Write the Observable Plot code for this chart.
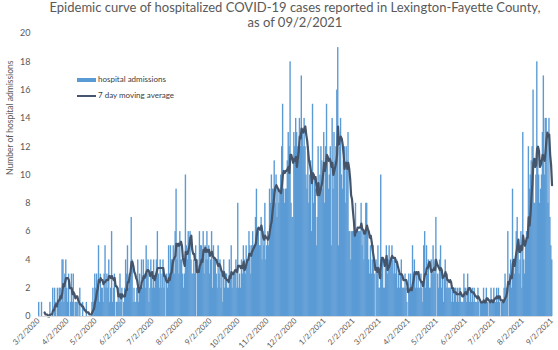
<!DOCTYPE html>
<html><head><meta charset="utf-8">
<script src="https://cdn.jsdelivr.net/npm/d3@7"></script>
<script src="https://cdn.jsdelivr.net/npm/@observablehq/plot@0.6"></script>
<style>
body{margin:0;background:#fff;font-family:Lato,"Liberation Sans",sans-serif;}
#wrap{position:relative;width:558px;height:350px;overflow:hidden;}
#title{height:28px;text-align:center;color:#595959;font-size:13px;line-height:15px;padding-left:32px;box-sizing:border-box;width:558px;white-space:nowrap;}
#legend{position:absolute;left:77px;top:71px;font-size:8px;color:#404040;line-height:16px;}
.sw{display:inline-block;width:19px;vertical-align:middle;margin-right:2px;}
</style></head>
<body><div id="wrap">
<div id="title">Epidemic curve of hospitalized COVID-19 cases reported in Lexington-Fayette County,<br>as of 09/2/2021</div>
<div id="chart"></div>
<div id="legend">
<div><span class="sw" style="height:4px;background:#5B9BD5"></span>hospital admissions</div>
<div><span class="sw" style="height:2px;background:#44546A"></span>7 day moving average</div>
</div>
</div>
<script>
const seriesName = "hospital admissions";
const averageName = "7 day moving average";
const firstDay = "2020-03-02";
// daily hospital admissions, 3/2/2020 .. 9/2/2021 (one line per week)
const admissions = [
1,0,0,1,0,0,0,
0,0,0,0,0,1,0,
0,2,0,2,1,0,2,
1,2,2,1,4,4,1,
3,4,2,1,3,0,1,
3,1,3,0,1,1,1,
1,0,2,0,0,1,0,
0,0,1,0,0,0,0,
0,1,2,1,3,2,3,
2,5,1,3,2,2,1,
3,5,2,3,2,4,1,
2,6,1,2,3,0,1,
1,2,1,3,1,2,0,
1,2,4,3,5,2,3,
3,7,4,1,2,1,1,
2,4,1,3,2,4,2,
4,3,2,5,3,4,1,
2,4,3,2,4,2,3,
4,6,3,2,4,2,3,
4,2,3,0,3,2,5,
3,5,4,4,5,3,6,
9,4,5,3,6,4,4,
3,2,3,10,5,4,6,
5,6,4,3,3,4,3,
5,0,4,3,6,5,5,
4,6,3,5,4,6,4,
5,3,4,6,2,5,4,
4,3,2,5,3,4,2,
3,1,4,2,3,3,2,
2,4,3,5,2,3,3,
3,4,2,8,2,3,2,
4,3,5,4,3,5,4,
4,6,5,3,5,6,5,
5,7,9,6,6,5,5,
7,4,6,5,8,4,5,
6,5,9,8,10,9,9,
11,8,10,7,9,8,9,
10,12,15,9,8,9,9,
11,13,12,18,8,7,7,
13,12,14,13,12,11,14,
12,17,13,12,14,12,10,
9,12,8,10,11,6,15,
8,10,9,5,7,12,9,
10,12,11,9,13,8,12,
15,11,9,10,12,5,14,
9,13,11,12,16,19,5,
12,14,10,9,11,12,8,
12,11,13,6,6,4,6,
6,6,6,8,6,6,6,
6,6,8,5,6,4,6,
8,8,6,4,3,5,3,
4,5,3,0,4,3,5,
2,2,10,3,4,2,2,
4,5,3,4,5,4,4,
5,4,3,4,3,4,2,
3,2,3,4,2,2,2,
3,2,1,0,3,2,3,
2,5,3,4,2,3,2,
3,2,2,3,2,1,5,
6,2,5,3,4,2,2,
4,3,5,4,3,7,0,
3,2,4,5,2,3,1,
3,4,2,3,2,2,2,
2,1,2,1,2,2,1,
2,1,2,2,1,1,1,
3,2,2,1,3,2,1,
2,1,2,1,2,1,1,
1,2,1,0,1,1,1,
2,1,1,2,1,0,1,
1,2,1,1,2,1,1,
2,1,2,1,0,1,1,
1,2,3,2,2,6,0,
3,4,2,9,4,3,4,
6,7,5,3,4,6,2,
13,4,3,5,6,6,12,
9,10,11,12,16,8,8,
10,18,12,10,8,9,10,
13,17,10,14,14,13,8,
14,7,5,4
];
const tickDates = ["2020-03-02","2020-04-02","2020-05-02","2020-06-02","2020-07-02","2020-08-02","2020-09-02","2020-10-02","2020-11-02","2020-12-02","2021-01-02","2021-02-02","2021-03-02","2021-04-02","2021-05-02","2021-06-02","2021-07-02","2021-08-02","2021-09-02"];
const tickLabels = ["3/2/2020","4/2/2020","5/2/2020","6/2/2020","7/2/2020","8/2/2020","9/2/2020","10/2/2020","11/2/2020","12/2/2020","1/2/2021","2/2/2021","3/2/2021","4/2/2021","5/2/2021","6/2/2021","7/2/2021","8/2/2021","9/2/2021"];
const yTicks = [0,2,4,6,8,10,12,14,16,18,20];
const yLabel = "Number of hospital admissions";

const start = new Date(firstDay + "T00:00Z");
const rows = admissions.map((v, i) => {
  const date = d3.utcDay.offset(start, i);
  return {date, next: d3.utcDay.offset(date, 1), mid: d3.utcHour.offset(date, 12), value: v};
});
const tDates = tickDates.map(s => new Date(s + "T00:00Z"));
const labelOf = new Map(tDates.map((d, i) => [+d, tickLabels[i]]));
const xEnd = d3.utcDay.offset(start, admissions.length);

const chart = Plot.plot({
  width: 558, height: 322,
  marginTop: 5, marginBottom: 34, marginLeft: 38, marginRight: 6,
  style: {fontFamily: "Lato, 'Liberation Sans', sans-serif", fontSize: "9px", color: "#595959", background: "white"},
  x: {type: "utc", domain: [start, xEnd]},
  y: {domain: [0, 20]},
  marks: [
    Plot.rectY(rows, {x1: "date", x2: "next", y: "value", fill: "#5B9BD5", insetRight: -0.45}),
    Plot.lineY(rows, Plot.windowY({k: 7, anchor: "end", strict: true}, {x: "mid", y: "value", stroke: "#44546A", strokeWidth: 2.2})),
    Plot.ruleY([0], {stroke: "#D9D9D9"}),
    Plot.axisY({ticks: yTicks, tickSize: 0, tickPadding: 8, label: null}),
    Plot.axisX({ticks: tDates, tickFormat: d => labelOf.get(+d), tickRotate: -45, tickSize: 0, tickPadding: 3, label: null, fontSize: 7.8}),
    Plot.text([yLabel], {frameAnchor: "left", rotate: -90, dx: -28, fill: "#595959", fontSize: 8.5})
  ]
});
document.getElementById("chart").appendChild(chart);
</script>
</body></html>
